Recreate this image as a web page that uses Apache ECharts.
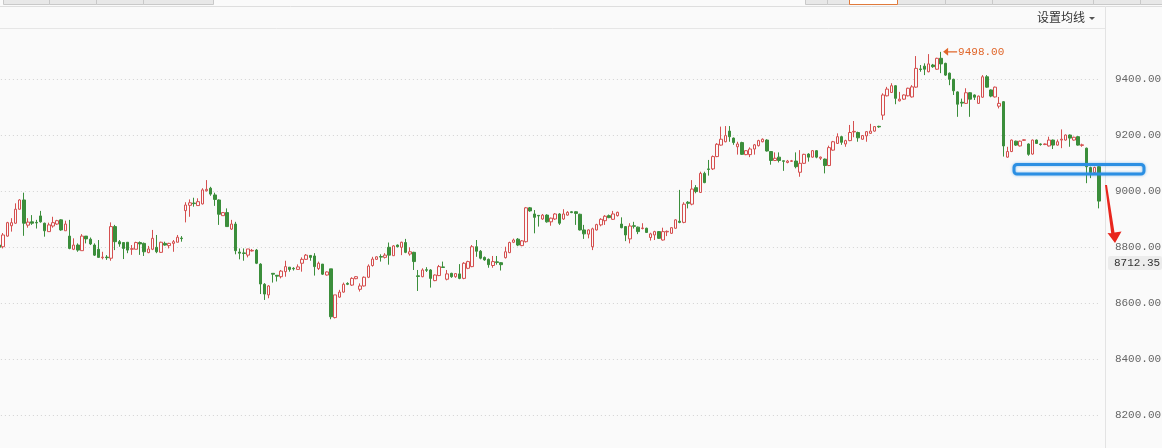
<!DOCTYPE html>
<html>
<head>
<meta charset="utf-8">
<script src="https://cdn.jsdelivr.net/npm/echarts@6/dist/echarts.min.js"></script>
<style>
  html, body { margin: 0; padding: 0; background: #fafafa; }
  #chart { width: 1162px; height: 448px; }
</style>
</head>
<body>
<div id="chart"></div>
<script>
// [open, close, low, high] per session
const candles = [
  [8808, 8800, 8796, 8812], [8802, 8844, 8796, 8851], [8840, 8888, 8838, 8891], [8877, 8888, 8856, 8904],
  [8886, 8936, 8884, 8957], [8936, 8969, 8934, 8972], [8969, 8886, 8841, 8995], [8879, 8890, 8870, 8904],
  [8891, 8886, 8880, 8915], [8889, 8887, 8867, 8898], [8912, 8891, 8888, 8930], [8886, 8859, 8838, 8888],
  [8856, 8880, 8856, 8888], [8876, 8888, 8870, 8909], [8883, 8895, 8880, 8898], [8898, 8862, 8859, 8900],
  [8859, 8883, 8859, 8895], [8840, 8796, 8793, 8898], [8793, 8808, 8790, 8832], [8808, 8790, 8784, 8814],
  [8788, 8840, 8788, 8847], [8840, 8830, 8814, 8840], [8829, 8812, 8808, 8835], [8808, 8772, 8769, 8814],
  [8793, 8764, 8764, 8826], [8763, 8765, 8757, 8784], [8765, 8763, 8755, 8772], [8761, 8874, 8752, 8889],
  [8874, 8820, 8790, 8880], [8820, 8812, 8802, 8826], [8817, 8796, 8758, 8817], [8818, 8790, 8779, 8818],
  [8793, 8795, 8773, 8808], [8793, 8817, 8793, 8820], [8817, 8812, 8773, 8821], [8814, 8784, 8769, 8817],
  [8781, 8794, 8779, 8805], [8793, 8832, 8790, 8862], [8800, 8784, 8779, 8844], [8782, 8818, 8780, 8820],
  [8814, 8808, 8806, 8820], [8806, 8814, 8796, 8816], [8814, 8820, 8784, 8826], [8818, 8836, 8818, 8844],
  [8833, 8831, 8820, 8840], [8931, 8951, 8889, 8961], [8950, 8959, 8909, 8971], [8958, 8956, 8945, 8977],
  [8949, 8963, 8949, 8975], [8955, 9005, 8953, 9011], [9002, 9007, 8999, 9040], [9011, 8990, 8984, 9016],
  [8987, 8971, 8948, 8995], [8969, 8918, 8880, 8971], [8913, 8924, 8913, 8926], [8924, 8874, 8874, 8939],
  [8865, 8883, 8862, 8898], [8883, 8788, 8775, 8891], [8783, 8779, 8757, 8796], [8780, 8778, 8752, 8796],
  [8772, 8794, 8764, 8794], [8787, 8789, 8785, 8794], [8790, 8743, 8740, 8794], [8740, 8669, 8633, 8743],
  [8668, 8633, 8612, 8672], [8630, 8662, 8618, 8665], [8707, 8704, 8674, 8707], [8700, 8697, 8678, 8700],
  [8695, 8715, 8689, 8719], [8713, 8731, 8695, 8752], [8729, 8721, 8713, 8729], [8725, 8723, 8717, 8729],
  [8721, 8730, 8721, 8739], [8743, 8757, 8713, 8764], [8757, 8772, 8755, 8776], [8771, 8764, 8752, 8772],
  [8769, 8731, 8699, 8779], [8724, 8743, 8719, 8749], [8740, 8704, 8701, 8740], [8701, 8712, 8699, 8714],
  [8723, 8552, 8543, 8723], [8549, 8630, 8546, 8630], [8622, 8640, 8620, 8648], [8640, 8668, 8638, 8674],
  [8671, 8668, 8665, 8675], [8665, 8689, 8662, 8693], [8688, 8695, 8686, 8697], [8650, 8662, 8642, 8671],
  [8662, 8693, 8660, 8696], [8693, 8733, 8690, 8739], [8735, 8758, 8731, 8766], [8757, 8766, 8755, 8768],
  [8767, 8765, 8749, 8775], [8764, 8772, 8760, 8779], [8800, 8772, 8738, 8817], [8770, 8805, 8770, 8808],
  [8808, 8802, 8800, 8810], [8800, 8818, 8772, 8820], [8817, 8782, 8779, 8830], [8776, 8784, 8770, 8800],
  [8782, 8749, 8719, 8784], [8698, 8696, 8644, 8719], [8695, 8719, 8693, 8725], [8720, 8718, 8712, 8729],
  [8719, 8689, 8656, 8722], [8681, 8701, 8679, 8703], [8699, 8731, 8697, 8737], [8730, 8728, 8728, 8749],
  [8686, 8705, 8682, 8719], [8707, 8695, 8691, 8709], [8695, 8706, 8691, 8708], [8705, 8689, 8686, 8740],
  [8689, 8743, 8686, 8747], [8725, 8749, 8722, 8752], [8731, 8802, 8729, 8808], [8802, 8786, 8766, 8826],
  [8786, 8761, 8757, 8790], [8764, 8755, 8752, 8767], [8757, 8738, 8727, 8760], [8735, 8749, 8727, 8769],
  [8748, 8746, 8738, 8769], [8745, 8738, 8717, 8747], [8763, 8784, 8760, 8802], [8781, 8817, 8779, 8820],
  [8818, 8826, 8815, 8831], [8829, 8808, 8804, 8833], [8806, 8823, 8804, 8826], [8820, 8941, 8817, 8944],
  [8941, 8930, 8927, 8944], [8919, 8907, 8850, 8933], [8914, 8912, 8874, 8915], [8901, 8915, 8898, 8919],
  [8915, 8891, 8888, 8918], [8891, 8904, 8877, 8906], [8901, 8919, 8898, 8922], [8919, 8886, 8880, 8922],
  [8901, 8919, 8898, 8936], [8915, 8925, 8913, 8929], [8927, 8924, 8922, 8929], [8927, 8921, 8880, 8929],
  [8918, 8862, 8860, 8920], [8862, 8848, 8830, 8880], [8847, 8862, 8832, 8864], [8802, 8866, 8790, 8870],
  [8862, 8881, 8860, 8884], [8880, 8900, 8875, 8904], [8895, 8911, 8880, 8915], [8913, 8906, 8904, 8917],
  [8900, 8919, 8898, 8930], [8913, 8925, 8910, 8927], [8883, 8870, 8868, 8907], [8874, 8844, 8822, 8876],
  [8830, 8876, 8814, 8886], [8877, 8875, 8867, 8891], [8872, 8856, 8847, 8874], [8867, 8869, 8864, 8886],
  [8868, 8853, 8852, 8870], [8835, 8848, 8824, 8852], [8844, 8856, 8826, 8859], [8856, 8832, 8830, 8858],
  [8826, 8856, 8824, 8870], [8855, 8857, 8840, 8860], [8850, 8870, 8848, 8872], [8868, 8898, 8866, 8900],
  [8893, 8889, 8886, 9005], [8889, 8954, 8886, 8961], [8961, 8957, 8939, 8965], [8954, 9008, 8950, 9040],
  [9013, 8999, 8993, 9022], [8996, 9064, 8994, 9070], [9064, 9031, 9029, 9070], [9080, 9078, 9056, 9112],
  [9080, 9124, 9076, 9128], [9124, 9168, 9122, 9172], [9165, 9186, 9163, 9231], [9177, 9199, 9175, 9233],
  [9215, 9195, 9177, 9233], [9190, 9174, 9166, 9192], [9159, 9169, 9131, 9177], [9174, 9132, 9130, 9177],
  [9131, 9145, 9129, 9147], [9131, 9151, 9122, 9157], [9151, 9166, 9131, 9169], [9163, 9181, 9160, 9184],
  [9177, 9186, 9175, 9189], [9183, 9144, 9142, 9186], [9142, 9110, 9095, 9144], [9110, 9118, 9108, 9139],
  [9122, 9110, 9103, 9139], [9109, 9107, 9073, 9109], [9103, 9108, 9100, 9112], [9107, 9109, 9105, 9112],
  [9108, 9088, 9082, 9139], [9068, 9100, 9052, 9147], [9100, 9132, 9098, 9134], [9133, 9122, 9106, 9136],
  [9122, 9145, 9120, 9147], [9145, 9122, 9118, 9147], [9118, 9122, 9112, 9124], [9115, 9092, 9064, 9117],
  [9092, 9156, 9090, 9163], [9147, 9177, 9145, 9180], [9171, 9195, 9169, 9207], [9195, 9175, 9166, 9198],
  [9169, 9181, 9159, 9184], [9181, 9210, 9179, 9237], [9212, 9214, 9193, 9251], [9210, 9191, 9177, 9213],
  [9186, 9199, 9184, 9201], [9198, 9213, 9177, 9215], [9207, 9215, 9205, 9241], [9215, 9231, 9213, 9233],
  [9232, 9230, 9227, 9234], [9272, 9344, 9255, 9350], [9341, 9365, 9339, 9373], [9353, 9377, 9351, 9386],
  [9377, 9332, 9311, 9379], [9323, 9329, 9321, 9355], [9329, 9344, 9327, 9346], [9341, 9368, 9339, 9370],
  [9337, 9373, 9335, 9379], [9372, 9439, 9370, 9483], [9437, 9435, 9427, 9451], [9447, 9436, 9415, 9457],
  [9427, 9455, 9425, 9490], [9451, 9445, 9441, 9455], [9436, 9475, 9434, 9477], [9475, 9455, 9422, 9498],
  [9457, 9415, 9412, 9459], [9422, 9400, 9379, 9424], [9400, 9359, 9344, 9402], [9355, 9311, 9266, 9357],
  [9318, 9315, 9302, 9331], [9314, 9352, 9312, 9368], [9352, 9329, 9266, 9354], [9344, 9336, 9326, 9346],
  [9314, 9340, 9312, 9342], [9336, 9409, 9334, 9415], [9409, 9372, 9370, 9415], [9362, 9340, 9336, 9364],
  [9337, 9372, 9335, 9374], [9304, 9314, 9296, 9337], [9320, 9162, 9124, 9322], [9122, 9142, 9120, 9159],
  [9142, 9183, 9140, 9185], [9179, 9165, 9162, 9181], [9162, 9179, 9160, 9181], [9182, 9184, 9180, 9186],
  [9169, 9132, 9127, 9171], [9133, 9183, 9131, 9185], [9183, 9171, 9169, 9185], [9169, 9167, 9163, 9171],
  [9167, 9169, 9165, 9171], [9162, 9183, 9160, 9195], [9183, 9165, 9151, 9185], [9165, 9177, 9163, 9185],
  [9183, 9186, 9154, 9221], [9183, 9201, 9181, 9203], [9201, 9190, 9159, 9203], [9183, 9193, 9181, 9195],
  [9195, 9165, 9163, 9197], [9164, 9166, 9159, 9170], [9154, 9088, 9029, 9156], [9085, 9067, 9047, 9088],
  [9067, 9085, 9065, 9088], [9088, 8965, 8939, 9090]
];
const categories = candles.map((_, i) => String(i + 1));

const yTicks = { min: 8000, max: 9600, step: 200 };
const highMark = { index: 227, value: 9498.0 };
const lastPrice = '8712.35';
const headerTabsLeft = [3, 49, 96, 143, 213];
const headerTabsRight = [805, 827, 849, 897, 945, 992, 1093, 1140, 1162];

const UP = '#d54f4f';
const DOWN = '#3b8e3b';
const NUM_FONT = '"Liberation Mono", "DejaVu Sans Mono", monospace';

const chart = echarts.init(document.getElementById('chart'), null, { renderer: 'canvas' });

const tabs = [];
for (let i = 0; i < headerTabsLeft.length - 1; i++) {
  tabs.push({
    type: 'rect', z: 100,
    shape: { x: headerTabsLeft[i] + 0.5, y: -4, width: headerTabsLeft[i + 1] - headerTabsLeft[i], height: 8.5 },
    style: { fill: '#e8e8e8', stroke: '#c9c9c9', lineWidth: 1 }
  });
}
for (let i = 0; i < headerTabsRight.length - 1; i++) {
  const active = headerTabsRight[i] === 849;
  tabs.push({
    type: 'rect', z: active ? 102 : 101,
    shape: { x: headerTabsRight[i] + 0.5, y: -4, width: headerTabsRight[i + 1] - headerTabsRight[i], height: 8.5 },
    style: { fill: active ? '#ffffff' : '#e8e8e8', stroke: active ? '#e07a3c' : '#c9c9c9', lineWidth: 1 }
  });
}

chart.setOption({
  animation: false,
  backgroundColor: '#fafafa',
  grid: { left: -3.1, top: 23.3, width: 1104, height: 448, outerBoundsMode: 'none' },
  xAxis: {
    type: 'category',
    data: categories,
    boundaryGap: true,
    axisLine: { show: false },
    axisTick: { show: false },
    axisLabel: { show: false },
    splitLine: { show: false }
  },
  yAxis: {
    type: 'value',
    position: 'right',
    offset: 4,
    min: yTicks.min,
    max: yTicks.max,
    interval: yTicks.step,
    axisLine: { show: false },
    axisTick: { show: false },
    axisLabel: {
      margin: 10,
      color: '#666',
      fontFamily: NUM_FONT,
      fontSize: 11,
      formatter: v => (v <= yTicks.min || v >= yTicks.max) ? '' : v.toFixed(2)
    },
    splitLine: { show: true, lineStyle: { color: '#d2d2d2', type: [1, 3], width: 1 } }
  },
  series: [{
    type: 'candlestick',
    data: candles,
    barWidth: 3,
    itemStyle: {
      color: '#fafafa',
      color0: DOWN,
      borderColor: UP,
      borderColor0: DOWN,
      borderWidth: 1
    },
    markPoint: {
      symbol: 'path://M0,4 L5,0.5 L5,3.5 L14,3.5 L14,4.5 L5,4.5 L5,7.5 Z',
      symbolSize: [14, 8],
      symbolOffset: [9, 0],
      itemStyle: { color: '#e0662a' },
      label: {
        show: true,
        position: 'right',
        distance: 1,
        color: '#e0662a',
        fontFamily: NUM_FONT,
        fontSize: 11,
        formatter: () => highMark.value.toFixed(2)
      },
      data: [{ coord: [highMark.index, highMark.value] }]
    }
  }],
  graphic: [
    // header strip
    { type: 'rect', z: 99, shape: { x: 0, y: 6, width: 1105, height: 22 }, style: { fill: '#fafafa' } },
    { type: 'line', z: 100, shape: { x1: 0, y1: 6.5, x2: 1162, y2: 6.5 }, style: { stroke: '#dedede', lineWidth: 1 } },
    { type: 'line', z: 100, shape: { x1: 0, y1: 28.5, x2: 1105, y2: 28.5 }, style: { stroke: '#e6e6e6', lineWidth: 1 } },
    { type: 'line', z: 100, shape: { x1: 1105.5, y1: 6, x2: 1105.5, y2: 448 }, style: { stroke: '#e3e3e3', lineWidth: 1 } },
    ...tabs,
    {
      type: 'text', z: 101, x: 1037, y: 11,
      style: { text: '设置均线', fill: '#333', font: '12px "Noto Sans CJK SC", sans-serif' }
    },
    { type: 'polygon', z: 101, shape: { points: [[1089, 17], [1095, 17], [1092, 20]] }, style: { fill: '#555' } },
    // last price tag
    { type: 'rect', z: 101, shape: { x: 1108, y: 256, width: 54, height: 14, r: 2 }, style: { fill: '#ececec' } },
    {
      type: 'text', z: 102, x: 1114, y: 257.5,
      style: { text: lastPrice, fill: '#333', font: '11px "Liberation Mono", "DejaVu Sans Mono", monospace' }
    },
    // blue highlight box
    {
      type: 'rect', z: 103, shape: { x: 1014, y: 164.5, width: 130, height: 9.5, r: 3 },
      style: { fill: 'none', stroke: '#2b8fe3', lineWidth: 3, shadowBlur: 3, shadowColor: 'rgba(43,143,227,0.5)' }
    },
    // red arrow
    {
      type: 'polygon', z: 103,
      shape: { points: [[1105, 185], [1107, 185], [1114.5, 232.5], [1121.5, 231.5], [1115, 243], [1107.5, 233], [1111.2, 233.2]] },
      style: { fill: '#e8261d' }
    }
  ]
});
</script>
</body>
</html>
